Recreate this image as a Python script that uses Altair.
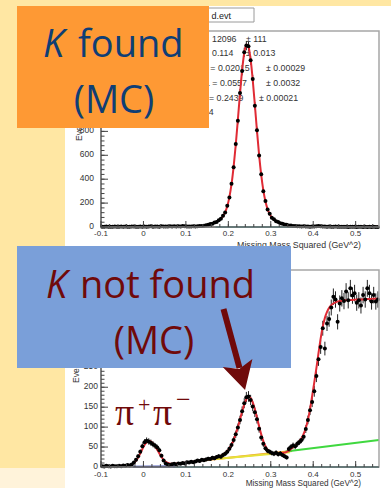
import altair as alt
import pandas as pd

# ---------------- data ----------------
X0 = -0.0975   # first bin centre
BW = 0.005     # bin width

top_counts = [
    3, 2, 4, 3, 2, 3, 5, 3, 2, 4,
    3, 4, 2, 3, 5, 4, 3, 2, 4, 3,
    5, 3, 4, 6, 3, 4, 5, 3, 6, 4,
    5, 4, 6, 5, 7, 4, 6, 5, 8, 6,
    4, 5, 4, 6, 5, 7, 8, 9, 11, 14,
    18, 25, 28, 38, 42, 57, 68, 94, 121, 178,
    246, 362, 500, 694, 890, 1122, 1305, 1462, 1518, 1512,
    1395, 1238, 1015, 810, 598, 441, 300, 218, 146, 111,
    78, 65, 48, 42, 31, 28, 21, 18, 13, 12,
    8, 9, 6, 7, 5, 6, 4, 5, 3, 5,
    4, 6, 8, 7, 5, 4, 3, 4, 2, 3,
    4, 2, 3, 2, 3, 2, 1, 3, 2, 2,
    1, 2, 3, 1, 2, 1, 2, 1, 2, 1,
    1,
]
top_fit = [
    3, 3, 3, 3, 3, 3, 3, 3, 3, 3,
    3, 3, 3, 3, 3, 3, 3, 3, 3, 3,
    3, 3, 3, 3, 3, 3, 3, 3, 3, 3,
    3, 3, 3, 3, 3, 3, 3, 3, 3, 3,
    4, 4, 5, 5, 6, 7, 8, 9, 11, 13,
    19, 24, 29, 36, 45, 55, 70, 91, 124, 174,
    250, 358, 506, 688, 899, 1116, 1312, 1456, 1526, 1507,
    1402, 1231, 1022, 804, 604, 436, 306, 213, 150, 108,
    81, 63, 50, 40, 33, 27, 22, 17, 14, 11,
    9, 8, 7, 6, 5, 5, 4, 4, 4, 4,
    4, 3, 3, 3, 3, 3, 3, 3, 3, 3,
    3, 3, 3, 3, 3, 3, 3, 3, 3, 3,
    3, 3, 3, 3, 3, 3, 3, 3, 3, 3,
    3,
]
bot_counts = [
    2, 1, 3, 2, 1, 3, 2, 2, 3, 2,
    4, 3, 5, 4, 6, 11, 18, 27, 38, 52,
    62, 66, 64, 61, 57, 53, 49, 42, 28, 16,
    9, 6, 5, 7, 8, 6, 9, 8, 10, 9,
    12, 11, 13, 12, 14, 16, 15, 18, 17, 19,
    21, 20, 23, 22, 25, 27, 26, 30, 33, 38,
    46, 55, 68, 82, 99, 118, 140, 160, 175, 177,
    168, 152, 137, 120, 96, 74, 58, 47, 41, 38,
    35, 33, 36, 32, 34, 30, 27, 24, 45, 50,
    54, 52, 58, 63, 68, 76, 95, 118, 142, 163,
    190, 228, 270, 301, 348, 297, 360, 371, 400, 427,
    420, 364, 410, 423, 416, 440, 418, 448, 430, 436,
    412, 418, 405, 431, 420, 448, 436, 415, 431, 415,
    420,
]
bot_fit = [
    2, 2, 2, 2, 2, 2, 2, 2, 2.5, 3,
    3, 3.5, 4, 5, 7, 10, 16, 24, 34, 45,
    55, 62, 65, 64, 59, 52, 43, 34, 25, 18,
    13, 10, 8.5, 8, 8, 8.5, 9, 9.5, 10, 10.5,
    11, 12, 12.5, 13, 14, 15, 16, 17, 18, 19,
    20, 21, 22, 23, 24.5, 26, 28, 31, 35, 40,
    47, 56, 68, 83, 100, 119, 139, 157, 170, 176,
    173, 162, 145, 124, 102, 82, 65, 52, 43, 38,
    35, 34, 33, 33, 34, 35, 36, 38, 41, 45,
    49, 53, 58, 64, 72, 83, 98, 118, 145, 178,
    212, 248, 286, 322, 352, 374, 389, 399, 406, 410,
    413, 415, 416, 417, 418, 418, 418.5, 419, 419, 419.5,
    420, 420, 420, 420.5, 421, 421, 421, 421.5, 422, 422,
    422,
]

# background-function pieces of the lower fit
bg_blue_x, bg_blue_y = [-0.025, 0.075], [0.6, 1.4]
bg_cyan_x, bg_cyan_y = [0.07, 0.555], [0, 0]
bg_orange_x, bg_orange_y = [0.14, 0.35], [16, 40]
bg_yellow_x, bg_yellow_y = [0.17, 0.345], [20, 37]
bg_green_x, bg_green_y = [0.335, 0.555], [39, 68]
top_cyan_x, top_cyan_y = [0.17, 0.555], [0, 0]

x_major = [-0.1, 0.0, 0.1, 0.2, 0.3, 0.4, 0.5]
x_labels = ["-0.1", "0", "0.1", "0.2", "0.3", "0.4", "0.5"]
x_minor = [round(-0.1 + 0.02 * i, 3) for i in range(33)]
top_y_major = [0, 200, 400, 600, 800, 1000, 1200, 1400, 1600]
top_y_labeled = [0, 200, 400, 600, 800]          # the rest lie under the orange box
top_y_minor = [40 * i for i in range(41)]
bot_y_major = [0, 50, 100, 150, 200, 250, 300, 350, 400, 450]
bot_y_labeled = [0, 50, 100, 150, 200, 250]      # the rest lie under the blue box
bot_y_minor = [10 * i for i in range(49)]

assert len(top_counts) == len(top_fit) == len(bot_counts) == len(bot_fit)


def centres(n):
    return [round(X0 + BW * i, 4) for i in range(n)]


top_df = pd.DataFrame({"x": centres(len(top_counts)), "n": top_counts, "fit": top_fit})
bot_df = pd.DataFrame({"x": centres(len(bot_counts)), "n": bot_counts, "fit": bot_fit})

W, H = 391, 488
one = pd.DataFrame({"a": [0]})

YELLOW = "#FFE7A3"
CREAM = "#FFF3DA"
ORANGE = "#FE9934"
NAVY = "#0F3E75"
BLUE = "#7A9FD9"
DRED = "#700A0A"
FIT_RED = "#E02B35"
AXC = "#444444"
LABF = "Liberation Sans"


def box(x1, x2, y1, y2, fill):
    return alt.Chart(one).mark_rect(fill=fill).encode(
        x=alt.value(x1), x2=alt.value(x2), y=alt.value(y1), y2=alt.value(y2))


def frame(x1, x2, y1, y2, stroke, sw):
    return alt.Chart(one).mark_rect(fillOpacity=0, stroke=stroke, strokeWidth=sw).encode(
        x=alt.value(x1), x2=alt.value(x2), y=alt.value(y1), y2=alt.value(y2))


def seg(x1, y1, x2, y2, color, sw):
    return alt.Chart(one).mark_rule(color=color, strokeWidth=sw).encode(
        x=alt.value(x1), x2=alt.value(x2), y=alt.value(y1), y2=alt.value(y2))


def txt(s, x, y, size, color, font, align="left", baseline="alphabetic",
        style="normal", angle=0):
    return alt.Chart(one).mark_text(
        text=s, align=align, baseline=baseline, fontSize=size, color=color,
        font=font, fontStyle=style, angle=angle).encode(x=alt.value(x), y=alt.value(y))


def histo(df, xs, ys, x_axis_y, y_axis_x, y_top, y_major, y_labeled, y_minor, ylab_x,
          xlab_y, bg_lines):
    X = lambda f: alt.X(f, type="quantitative", scale=xs, axis=None)
    Y = lambda f: alt.Y(f, type="quantitative", scale=ys, axis=None)
    layers = []
    for bx, by, col in bg_lines:
        d = pd.DataFrame({"x": bx, "y": by})
        layers.append(alt.Chart(d).mark_line(color=col, strokeWidth=2, clip=True)
                      .encode(x=X("x"), y=Y("y")))
    layers.append(alt.Chart(df).transform_calculate(
        lo="datum.n - sqrt(datum.n)", hi="datum.n + sqrt(datum.n)")
        .mark_rule(color="#222222", strokeWidth=1)
        .encode(x=X("x"), y=Y("lo"), y2="hi:Q"))
    layers.append(alt.Chart(df).mark_line(color=FIT_RED, strokeWidth=2,
                                          interpolate="monotone")
                  .encode(x=X("x"), y=Y("fit")))
    layers.append(alt.Chart(df).mark_circle(size=16, color="black", opacity=1)
                  .encode(x=X("x"), y=Y("n")))
    x_end = 379
    layers.append(frame(y_axis_x, x_end, y_top, x_axis_y, "#A6A6A6", 1.5))
    layers.append(seg(y_axis_x, x_axis_y, x_end, x_axis_y, AXC, 1))
    layers.append(seg(y_axis_x, y_top, y_axis_x, x_axis_y, AXC, 1))
    xmaj = pd.DataFrame({"v": x_major, "t": x_labels})
    xmin = pd.DataFrame({"v": x_minor})
    layers.append(alt.Chart(xmaj).mark_rule(color=AXC, strokeWidth=1).encode(
        x=X("v"), y=alt.value(x_axis_y - 6), y2=alt.value(x_axis_y)))
    layers.append(alt.Chart(xmin).mark_rule(color=AXC, strokeWidth=1).encode(
        x=X("v"), y=alt.value(x_axis_y - 3), y2=alt.value(x_axis_y)))
    layers.append(alt.Chart(xmaj).mark_text(fontSize=8, font=LABF, color="#333333",
                                            baseline="middle", align="center")
                  .encode(x=X("v"), y=alt.value(xlab_y), text="t:N"))
    ymaj = pd.DataFrame({"v": y_major})
    ylab = pd.DataFrame({"v": y_labeled, "t": [str(v) for v in y_labeled]})
    ymin = pd.DataFrame({"v": y_minor})
    layers.append(alt.Chart(ymaj).mark_rule(color=AXC, strokeWidth=1).encode(
        y=Y("v"), x=alt.value(y_axis_x), x2=alt.value(y_axis_x + 7)))
    layers.append(alt.Chart(ymin).mark_rule(color=AXC, strokeWidth=1).encode(
        y=Y("v"), x=alt.value(y_axis_x), x2=alt.value(y_axis_x + 3.5)))
    layers.append(alt.Chart(ylab).mark_text(fontSize=8.5, font=LABF, color="#333333",
                                            baseline="middle", align="right", dy=-1)
                  .encode(y=Y("v"), x=alt.value(ylab_x), text="t:N"))
    return alt.layer(*layers)


XS_TOP = alt.Scale(domain=[-0.1, 0.555], range=[101, 379], nice=False, zero=False)
YS_TOP = alt.Scale(domain=[0, 1640], range=[227, 31], nice=False, zero=False)
XS_BOT = alt.Scale(domain=[-0.1, 0.555], range=[101, 379], nice=False, zero=False)
YS_BOT = alt.Scale(domain=[0, 494], range=[467, 270], nice=False, zero=False)

top_group = histo(top_df, XS_TOP, YS_TOP, 227, 101, 31, top_y_major, top_y_labeled,
                  top_y_minor, 94, 234, [(top_cyan_x, top_cyan_y, "#33C4C4")])
bot_group = histo(bot_df, XS_BOT, YS_BOT, 467, 101, 270, bot_y_major, bot_y_labeled,
                  bot_y_minor, 98, 474.5,
                  [(bg_cyan_x, bg_cyan_y, "#33C4C4"),
                   (bg_blue_x, bg_blue_y, "#2233AA"),
                   (bg_orange_x, bg_orange_y, "#F29A2E"),
                   (bg_yellow_x, bg_yellow_y, "#E6E23A"),
                   (bg_green_x, bg_green_y, "#3FD83F")])

SF = 8.8
STC = "#333333"
stats = [
    txt("12096", 212, 42, SF, STC, LABF), txt("± 111", 246, 42, SF, STC, LABF),
    txt("0.114", 212, 56, SF, STC, LABF), txt("± 0.013", 246, 56, SF, STC, LABF),
    txt("2 = 0.02015", 203, 71, SF, STC, LABF), txt("± 0.00029", 266, 71, SF, STC, LABF),
    txt("1 = 0.0557", 205, 86, SF, STC, LABF), txt("± 0.0032", 266, 86, SF, STC, LABF),
    txt("= 0.2439", 209, 101, SF, STC, LABF), txt("± 0.00021", 259, 101, SF, STC, LABF),
    txt("/ 14", 199, 115, SF, STC, LABF),
]

background = [
    box(0, W, 0, H, YELLOW),
    box(65, W, 6, H, "white"),
    box(0, 65, 468, H, CREAM),
]

title_box = [
    alt.Chart(one).mark_rect(fill="white", stroke="#9A9A9A", strokeWidth=1).encode(
        x=alt.value(190), x2=alt.value(254), y=alt.value(8), y2=alt.value(22)),
    txt("d.evt", 231, 19, 9, "#222222", LABF, align="right"),
]

axis_titles = [
    txt("Missing Mass Squared (GeV^2)", 361, 248, 8.8, "#333333", LABF, align="right"),
    txt("Missing Mass Squared (GeV^2)", 361, 485.5, 8.2, "#333333", LABF, align="right"),
    txt("Events", 79, 141, 8.5, "#333333", LABF, baseline="middle", angle=270),
    txt("Events", 76, 383, 8.5, "#333333", LABF, baseline="middle", angle=270),
]

BOXF = "Open Sans"
orange_box = [
    box(17, 209, 6, 128, ORANGE),
    txt("K", 43, 57, 38, NAVY, BOXF, style="italic"),
    txt("found", 78, 57, 38, NAVY, BOXF),
    txt("(MC)", 114, 113, 38, NAVY, BOXF, align="center"),
]
blue_box = [
    box(17, 291, 246, 368, BLUE),
    txt("K", 46, 298, 38, DRED, BOXF, style="italic"),
    txt("not found", 80, 298, 38, DRED, BOXF),
    txt("(MC)", 154, 354, 38, DRED, BOXF, align="center"),
]
arrow = [
    seg(223.5, 309, 239.5, 368, DRED, 6),
    alt.Chart(one).mark_point(shape="M0,1 L-1.1,-1 L0,-0.55 L1.1,-1 Z", size=784,
                              filled=True, color=DRED, opacity=1, angle=344.5)
    .encode(x=alt.value(241.3), y=alt.value(376.5)),
]
pipi = [
    txt("π", 115, 425, 38, DRED, "Liberation Serif"),
    txt("+", 138, 412, 22, DRED, "Liberation Serif"),
    txt("π", 153, 425, 38, DRED, "Liberation Serif"),
    txt("−", 176, 408, 26, DRED, "Liberation Serif"),
]

chart = alt.layer(
    *background, *title_box, *stats, top_group, bot_group, *axis_titles,
    *orange_box, *blue_box, *arrow, *pipi
).resolve_scale(x="independent", y="independent").properties(
    width=W, height=H, padding=0,
    autosize=alt.AutoSizeParams(type="none"), background=YELLOW,
).configure_view(stroke=None)

chart.save("out.html", embed_options={"renderer": "svg", "actions": False})
